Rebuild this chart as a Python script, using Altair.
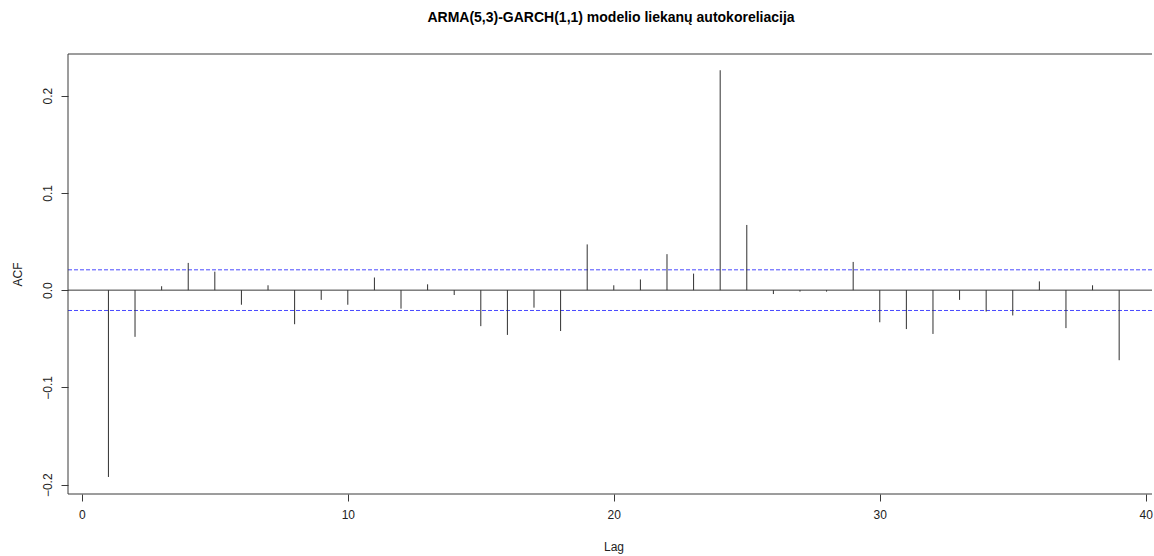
import altair as alt
import pandas as pd

# ---- data ----
lags = list(range(1, 40))
acf_values = [
    -0.192, -0.048, 0.004, 0.028, 0.019, -0.015, 0.005, -0.035, -0.010, -0.015,
    0.013, -0.019, 0.006, -0.005, -0.037, -0.046, -0.018, -0.042, 0.047, 0.005,
    0.011, 0.037, 0.017, 0.226, 0.067, -0.004, -0.0015, -0.0015, 0.029, -0.033,
    -0.040, -0.045, -0.010, -0.022, -0.026, 0.009, -0.039, 0.005, -0.072,
]
ci_bound = 0.0209
x_ticks = [0, 10, 20, 30, 40]
y_ticks = [-0.2, -0.1, 0.0, 0.1, 0.2]
title_text = "ARMA(5,3)-GARCH(1,1) modelio liekanų autokoreliacija"
x_title = "Lag"
y_title = "ACF"

# ---- layout ----
W, H = 1086, 440
x_dom = [-0.52, 40.31]
y_dom = [-0.2095, 0.2427]
FONT = "Liberation Sans"
DARK = "#3a3a3a"
TXT = "#222222"

df = pd.DataFrame({"lag": lags, "acf": acf_values, "zero": [0.0] * len(lags)})
ci_df = pd.DataFrame({"ci": [ci_bound, -ci_bound]})
zero_df = pd.DataFrame({"z": [0.0]})

x_scale = alt.Scale(domain=x_dom, nice=False, zero=False)
y_scale = alt.Scale(domain=y_dom, nice=False, zero=False)

common_axis = dict(
    domain=False, grid=False, ticks=True, tickSize=7, tickColor=DARK,
    labelFont=FONT, labelFontSize=12, labelColor=TXT,
    titleFont=FONT, titleFontSize=12, titleFontWeight="normal", titleColor=TXT,
)

x_axis = alt.Axis(
    values=x_ticks, title=x_title, format="d",
    titleX=545.5, titleY=52, titleAlign="center", titleBaseline="middle",
    labelPadding=8, **common_axis,
)
y_axis = alt.Axis(
    values=y_ticks, title=y_title, format=".1f",
    labelAngle=270, labelAlign="center", labelBaseline="bottom", labelPadding=7,
    titleAngle=270, titleX=-51, titleY=220, titleAlign="center", titleBaseline="middle",
    **common_axis,
)

spikes = alt.Chart(df).mark_rule(color="#303030", strokeWidth=1).encode(
    x=alt.X("lag:Q", scale=x_scale, axis=x_axis),
    y=alt.Y("acf:Q", scale=y_scale, axis=y_axis),
    y2="zero:Q",
)

zero_line = alt.Chart(zero_df).mark_rule(color=DARK, strokeWidth=1).encode(
    y="z:Q", x=alt.value(0), x2=alt.value(W)
)

ci_lines = alt.Chart(ci_df).mark_rule(
    color="#2a2aff", strokeWidth=1, strokeDash=[4, 2], opacity=0.85
).encode(y="ci:Q", x=alt.value(0), x2=alt.value(W))

box_top = alt.Chart(zero_df).mark_rule(color=DARK, strokeWidth=1).encode(
    y=alt.value(0), x=alt.value(0), x2=alt.value(W)
)
box_bottom = alt.Chart(zero_df).mark_rule(color=DARK, strokeWidth=1).encode(
    y=alt.value(H), x=alt.value(0), x2=alt.value(W)
)
box_left = alt.Chart(zero_df).mark_rule(color=DARK, strokeWidth=1).encode(
    x=alt.value(0), y=alt.value(0), y2=alt.value(H)
)
# white cover over the right edge of the plot frame (the reference's frame
# continues past the picture's right edge, so no right border is visible)
right_cover = alt.Chart(zero_df).mark_rule(color="white", strokeWidth=4).encode(
    x=alt.value(W), y=alt.value(-2), y2=alt.value(H + 2)
)

chart = alt.layer(
    ci_lines, zero_line, spikes, box_top, box_bottom, box_left, right_cover
).properties(
    width=W,
    height=H,
    background="white",
    view=alt.ViewBackground(stroke="transparent", strokeWidth=0),
    autosize=alt.AutoSizeParams(type="none"),
    padding={"left": 68, "top": 54, "right": 0, "bottom": 62},
    title=alt.TitleParams(
        text=title_text, anchor="middle", font=FONT, fontSize=14,
        fontWeight="bold", color="#000000", baseline="alphabetic", offset=14,
    ),
).configure_view(
    stroke="transparent", strokeWidth=0
)

chart.save("out.html", embed_options={"renderer": "svg", "actions": False})
